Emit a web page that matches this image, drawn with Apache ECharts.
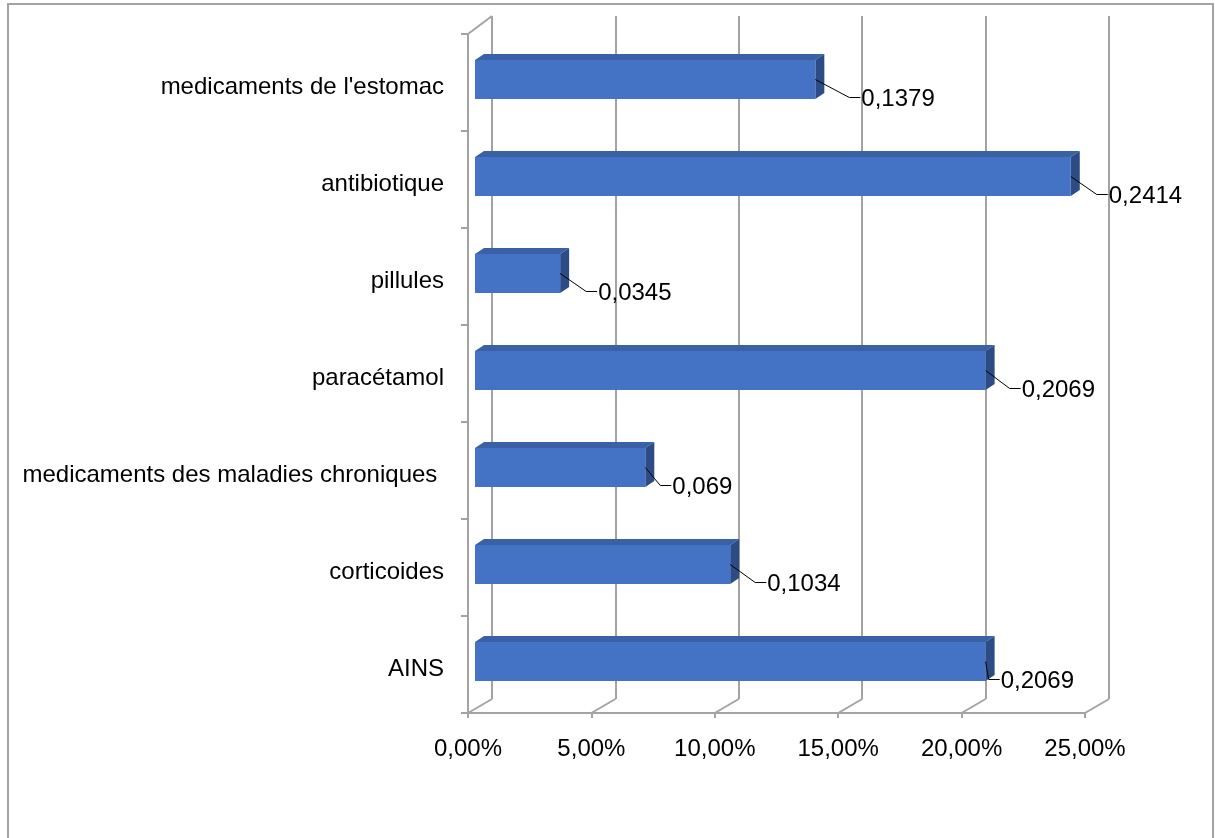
<!DOCTYPE html>
<html>
<head>
<meta charset="utf-8">
<script src="https://cdn.jsdelivr.net/npm/echarts@6/dist/echarts.min.js"></script>
<style>
  html, body { margin: 0; padding: 0; background: #fff; }
  #chart { width: 1215px; height: 838px; }
</style>
</head>
<body>
<div id="chart"></div>
<script>
// data, top to bottom as in the chart
const categories = ["medicaments de l'estomac", 'antibiotique', 'pillules', 'paracétamol', 'medicaments des maladies chroniques ', 'corticoides', 'AINS']
const values = [0.1379, 0.2414, 0.0345, 0.2069, 0.069, 0.1034, 0.2069]
const xTicks = [0, 0.05, 0.1, 0.15, 0.2, 0.25]

// leader line elbow (x shift per label)
const leaderDx = [34, 26, 26, 24, 15, 25, 3]

const gray = '#a3a3a3'
const font = 'Liberation Sans'
const depth = { ox: 7, oy: -3, dx: 9, dy: -6 }
const floor = { dx: 24, dy: -14 }

const chart = echarts.init(document.getElementById('chart'))

function pct(v) {
  return (v * 100).toFixed(2).replace('.', ',') + '%'
}

function bar3d(params, api) {
  const idx = api.value(1)
  const p0 = api.coord([0, idx])
  const p1 = api.coord([api.value(0), idx])
  const band = api.size([0, 1])[1]
  const h = band * 0.4
  const x = p0[0] + depth.ox
  const y = p0[1] + depth.oy - h / 2
  const w = p1[0] - p0[0]
  const { dx, dy } = depth
  const midY = y + h / 2
  const ex = x + w + leaderDx[params.dataIndex]
  const ey = midY + 18
  return {
    type: 'group',
    children: [
      { type: 'polygon', shape: { points: [[x, y], [x + dx, y + dy], [x + w + dx, y + dy], [x + w, y]] }, style: { fill: '#3a60a5' } },
      { type: 'polygon', shape: { points: [[x + w, y], [x + w + dx, y + dy], [x + w + dx, y + h + dy], [x + w, y + h]] }, style: { fill: '#2d4c86' } },
      { type: 'rect', shape: { x: x, y: y, width: w, height: h }, style: { fill: '#4472c4' } },
      { type: 'polyline', shape: { points: [[x + w, midY], [ex, ey], [ex + 11, ey]] }, style: { stroke: '#000', lineWidth: 1, fill: null } },
      { type: 'text', x: ex + 12, y: ey + 2, style: { text: String(api.value(0)).replace('.', ','), font: '24px "' + font + '"', fill: '#000', verticalAlign: 'middle' } }
    ]
  }
}

function floorLines(params, api) {
  const v = api.value(0)
  const band = api.size([0, 1])[1]
  const pb = api.coord([v, categories.length - 1])
  const bottom = pb[1] + band / 2
  const children = [
    { type: 'line', shape: { x1: pb[0], y1: bottom, x2: pb[0] + floor.dx, y2: bottom + floor.dy }, style: { stroke: gray, lineWidth: 2 } }
  ]
  if (params.dataIndex === 0) {
    const top = api.coord([v, 0])[1] - band / 2
    children.push({ type: 'line', shape: { x1: pb[0], y1: top, x2: pb[0] + floor.dx, y2: top - 18 }, style: { stroke: gray, lineWidth: 2 } })
  }
  return { type: 'group', children }
}

chart.setOption({
  backgroundColor: '#fff',
  animation: false,
  graphic: [
    { type: 'rect', shape: { x: 8, y: 4, width: 1205, height: 860 }, style: { fill: null, stroke: gray, lineWidth: 2 }, z: -1 }
  ],
  grid: [
    { left: 468, right: 130, top: 34, bottom: 125 },
    { left: 492, right: 106, top: 16, bottom: 139 }
  ],
  xAxis: [
    {
      type: 'value', gridIndex: 0, min: 0, max: 0.25, interval: 0.05,
      axisLine: { show: true, lineStyle: { color: gray, width: 2 } },
      axisTick: { show: true, length: 5, lineStyle: { color: gray, width: 2 } },
      splitLine: { show: false },
      axisLabel: { formatter: pct, color: '#000', fontFamily: font, fontSize: 24, margin: 24 }
    },
    {
      type: 'value', gridIndex: 1, min: 0, max: 0.25, interval: 0.05,
      axisLine: { show: false }, axisTick: { show: false }, axisLabel: { show: false },
      splitLine: { show: true, lineStyle: { color: gray, width: 2 } }
    }
  ],
  yAxis: [
    {
      type: 'category', gridIndex: 0, data: categories, inverse: true,
      axisLine: { show: true, lineStyle: { color: gray, width: 2 } },
      axisTick: { show: true, length: 7, lineStyle: { color: gray, width: 2 } },
      axisLabel: {
        margin: 24,
        formatter: (v) => '{c|' + v + '}',
        rich: { c: { color: '#000', fontFamily: font, fontSize: 24, padding: [9, 0, 0, 0] } }
      }
    },
    { type: 'value', gridIndex: 1, show: false, min: 0, max: 1 }
  ],
  series: [
    {
      type: 'custom', xAxisIndex: 0, yAxisIndex: 0, z: 1,
      data: xTicks.map((v) => [v, 0]),
      renderItem: floorLines, silent: true
    },
    {
      type: 'custom', xAxisIndex: 0, yAxisIndex: 0, z: 5,
      data: values.map((v, i) => [v, i]),
      renderItem: bar3d,
      encode: { x: 0, y: 1 }
    }
  ]
})
</script>
</body>
</html>
